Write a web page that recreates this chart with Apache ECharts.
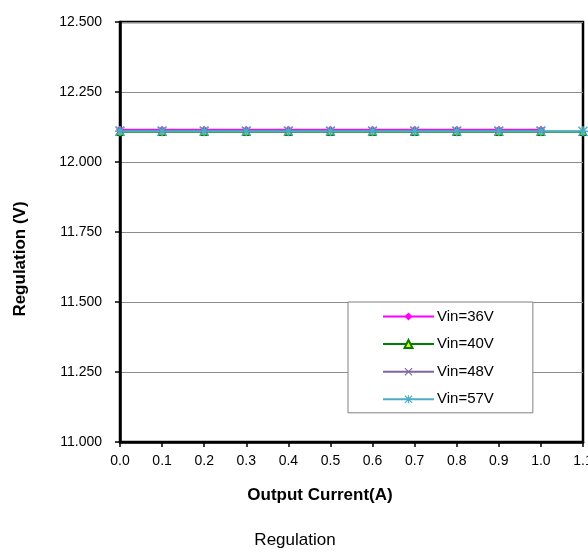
<!DOCTYPE html>
<html>
<head>
<meta charset="utf-8">
<script src="https://cdn.jsdelivr.net/npm/echarts@6/dist/echarts.min.js"></script>
<style>html,body{margin:0;padding:0;background:#fff;}#c{width:588px;height:552px;}</style>
</head>
<body>
<div id="c"></div>
<script>
var currents = [0.0, 0.1, 0.2, 0.3, 0.4, 0.5, 0.6, 0.7, 0.8, 0.9, 1.0, 1.1];
var vin36 = [12.115, 12.115, 12.115, 12.115, 12.115, 12.115, 12.115, 12.115, 12.115, 12.115, 12.115];
var vin40 = [12.108, 12.108, 12.108, 12.108, 12.108, 12.108, 12.108, 12.108, 12.108, 12.108, 12.108, 12.108];
var vin48 = [12.112, 12.112, 12.112, 12.112, 12.112, 12.112, 12.112, 12.112, 12.112, 12.112, 12.112];
var vin57 = [12.110, 12.110, 12.110, 12.110, 12.110, 12.110, 12.110, 12.110, 12.110, 12.110, 12.110, 12.110];
var seriesNames = ['Vin=36V', 'Vin=40V', 'Vin=48V', 'Vin=57V'];
var xTitle = 'Output Current(A)';
var yTitle = 'Regulation (V)';
var chartTitle = 'Regulation';

function pairs(vals) { return vals.map(function (v, i) { return [currents[i], v]; }); }
var FONT = '"Liberation Sans", Arial, sans-serif';
var xShape = 'path://M0,1L1,0L5,4L9,0L10,1L6,5L10,9L9,10L5,6L1,10L0,9L4,5Z';
var starShape = 'path://M0,1L1,0L5,4L9,0L10,1L6,5L10,9L9,10L5,6L1,10L0,9L4,5Z M4.2,0H5.8V10H4.2Z M0,4.2H10V5.8H0Z';

var chart = echarts.init(document.getElementById('c'), null, {renderer: 'canvas'});
chart.setOption({
  animation: false,
  backgroundColor: '#fff',
  textStyle: {fontFamily: FONT},
  grid: {left: 120, right: 5, top: 22, bottom: 110, containLabel: false, outerBoundsMode: 'none',
    show: true, borderColor: '#000', borderWidth: 2.5, backgroundColor: 'transparent'},
  xAxis: {
    type: 'value', min: 0, max: 1.1, interval: 0.1,
    axisLine: {show: true, lineStyle: {color: '#000', width: 2.5}},
    axisTick: {show: true, inside: false, length: 5, lineStyle: {color: '#000', width: 1.5}},
    axisLabel: {color: '#000', fontSize: 14, fontFamily: FONT, margin: 12, hideOverlap: false, formatter: function (v) { return v.toFixed(1); }},
    splitLine: {show: false}
  },
  yAxis: {
    type: 'value', min: 11.0, max: 12.5, interval: 0.25,
    axisLine: {show: true, lineStyle: {color: '#000', width: 2.5}},
    axisTick: {show: true, inside: false, length: 5, lineStyle: {color: '#000', width: 1.5}},
    axisLabel: {color: '#000', fontSize: 14, fontFamily: FONT, margin: 18, formatter: function (v) { return v.toFixed(3); }},
    splitLine: {show: true, lineStyle: {color: '#8c8c8c', width: 1}}
  },
  legend: {
    orient: 'vertical', left: 348, top: 302,
    padding: [7, 39, 6, 34],
    itemWidth: 51, itemHeight: 10, itemGap: 12.6,
    borderColor: '#808080', borderWidth: 1, backgroundColor: '#fff',
    textStyle: {color: '#000', fontSize: 15, fontFamily: FONT, padding: [0, 0, 0, -2]},
    data: seriesNames
  },
  graphic: [
    {type: 'text', x: 320, y: 495, style: {text: xTitle, align: 'center', verticalAlign: 'middle', font: 'bold 17px ' + FONT, fill: '#000'}},
    {type: 'text', x: 20, y: 259, rotation: Math.PI / 2, style: {text: yTitle, align: 'center', verticalAlign: 'middle', font: 'bold 17px ' + FONT, fill: '#000'}},
    {type: 'text', x: 295, y: 540, style: {text: chartTitle, align: 'center', verticalAlign: 'middle', font: '17px ' + FONT, fill: '#000'}}
  ],
  series: [
    {name: seriesNames[0], type: 'line', data: pairs(vin36), symbol: 'diamond', symbolSize: 8,
      lineStyle: {color: '#FF00FF', width: 2}, itemStyle: {color: '#FF00FF'}},
    {name: seriesNames[1], type: 'line', data: pairs(vin40), symbol: 'triangle', symbolSize: 7,
      lineStyle: {color: '#008000', width: 2}, itemStyle: {color: '#FFFF00', borderColor: '#008000', borderWidth: 1.5}},
    {name: seriesNames[2], type: 'line', data: pairs(vin48), symbol: xShape, symbolSize: 9,
      lineStyle: {color: '#8064A2', width: 2}, itemStyle: {color: '#8064A2'}},
    {name: seriesNames[3], type: 'line', data: pairs(vin57), symbol: starShape, symbolSize: 10,
      lineStyle: {color: '#4BACC6', width: 2}, itemStyle: {color: '#4BACC6'}}
  ]
});
</script>
</body>
</html>
